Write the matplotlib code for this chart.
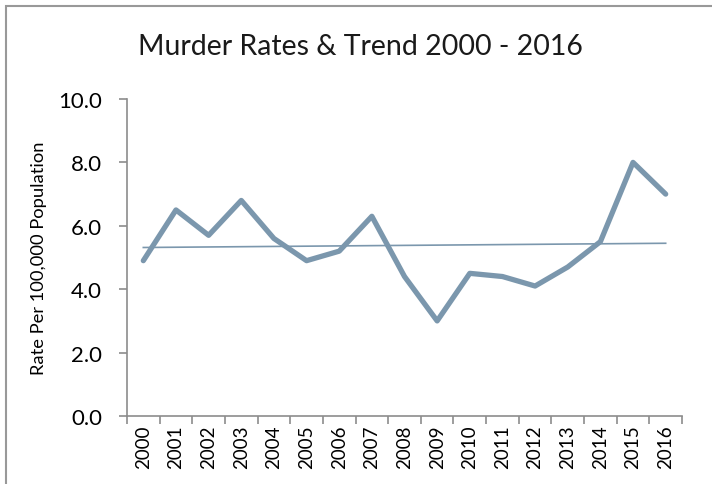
import numpy as np
import matplotlib
matplotlib.use("Agg")
import matplotlib.pyplot as plt
from matplotlib.patches import Rectangle

years = [str(y) for y in range(2000, 2017)]
rates = [4.9, 6.5, 5.7, 6.8, 5.6, 4.9, 5.2, 6.3, 4.4, 3.0,
         4.5, 4.4, 4.1, 4.7, 5.5, 8.0, 7.0]
y_ticks = [0.0, 2.0, 4.0, 6.0, 8.0, 10.0]

line_color = "#7b97ad"
axis_color = "#8c8c8c"

plt.rcParams['font.family'] = ['Lato', 'DejaVu Sans']

fig = plt.figure(figsize=(7.12, 4.85), dpi=100)
ax = fig.add_axes([127 / 712, 68 / 485, 555 / 712, 317 / 485])

x = np.arange(len(years))
ax.plot(x, rates, color=line_color, lw=3.8, solid_joinstyle='round',
        solid_capstyle='round', zorder=3)

# linear trendline, like the spreadsheet one
slope, icept = np.polyfit(x, rates, 1)
ax.plot(x, slope * x + icept, color=line_color, lw=1.2, zorder=2)

ax.set_xlim(-0.5, len(years) - 0.5)
ax.set_ylim(0, 10)
ax.set_yticks(y_ticks)
ax.set_yticklabels([f"{v:.1f}" for v in y_ticks], fontsize=16)
ax.set_xticks(x)
ax.set_xticklabels(years, rotation=90, fontsize=13.5)
ax.set_xticks(np.arange(-0.5, len(years)), minor=True)
ax.tick_params(axis='x', which='major', length=0, pad=6)
ax.tick_params(axis='x', which='minor', length=6, color=axis_color, width=1.2)
ax.tick_params(axis='y', length=6, color=axis_color, width=1.2, pad=12)

for side in ['top', 'right']:
    ax.spines[side].set_visible(False)
for side in ['left', 'bottom']:
    ax.spines[side].set_color(axis_color)
    ax.spines[side].set_linewidth(1.2)

ax.set_ylabel("Rate Per 100,000 Population", fontsize=13.2, labelpad=8)
fig.text(360 / 712, 1 - 47 / 485, "Murder Rates & Trend 2000 - 2016",
         fontsize=20.5, ha='center', va='center', color='#1a1a1a')

# chart area border (only top and left edges show)
fig.patches.append(Rectangle((6 / 712, -0.1), 1.2, 1 - 7 / 485 + 0.1,
                             transform=fig.transFigure, fill=False,
                             edgecolor='#999999', lw=1.5))

fig.savefig("out.png", dpi=100)
